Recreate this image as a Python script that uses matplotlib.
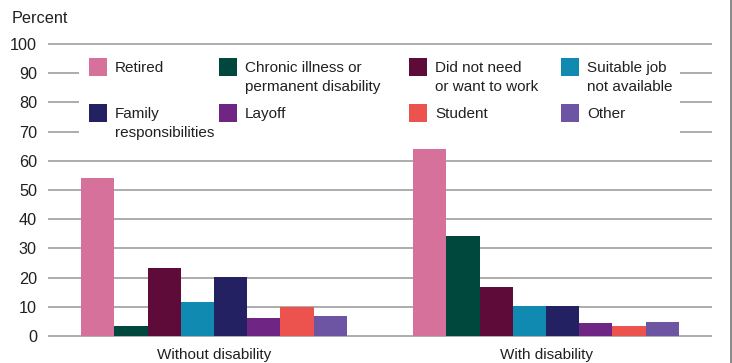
import matplotlib
matplotlib.use("Agg")
import numpy as np
import matplotlib.pyplot as plt
from matplotlib.patches import Rectangle

plt.rcParams['font.family'] = ['Liberation Sans', 'DejaVu Sans']

# Data
groups = ["Without disability", "With disability"]
reasons = ["Retired", "Chronic illness or\npermanent disability", "Did not need\nor want to work",
           "Suitable job\nnot available", "Family\nresponsibilities", "Layoff", "Student", "Other"]
colors = ["#d5719a", "#00473d", "#5e0b3a", "#118ab2", "#232162", "#6f2583", "#ec534f", "#6d55a3"]
without_disability = [54, 3.4, 23.3, 11.6, 20.2, 6.3, 9.9, 6.8]
with_disability = [64.0, 34.3, 16.8, 10.3, 10.3, 4.5, 3.4, 4.8]
yticks = [0, 10, 20, 30, 40, 50, 60, 70, 80, 90, 100]

txt = "#231f20"
W, H = 732, 363

fig = plt.figure(figsize=(7.32, 3.63), dpi=100)
ax = fig.add_axes([48 / W, 1 - 338.9 / H, 664 / W, 300.7 / H])

values = np.array([without_disability, with_disability])
x = np.arange(len(groups))
bw = 0.1
for i, reason in enumerate(reasons):
    ax.bar(x + (i - 3.5) * bw, values[:, i], width=bw, color=colors[i], zorder=3)

ax.set_xlim(-0.5, 1.5)
ax.set_ylim(-1, 102)
ax.set_yticks(yticks)
ax.set_yticklabels([str(t) for t in yticks], fontsize=11.7, color=txt)
ax.set_xticks(x)
ax.set_xticklabels(groups, fontsize=11, color=txt)
ax.tick_params(axis='y', length=0, pad=8)
ax.tick_params(axis='x', length=0, pad=6.5)
ax.yaxis.grid(True, color="#a6a6a6", linewidth=1.3)
ax.set_axisbelow(True)
for s in ax.spines.values():
    s.set_visible(False)

# white box behind the legend interrupts the gridlines
fig.patches.append(Rectangle((79 / W, 1 - 145 / H), (680 - 79) / W, 95 / H,
                             transform=fig.transFigure, facecolor="white",
                             edgecolor="none", zorder=2))

# legend drawn as a 4 x 2 block
col_x = [89, 219, 409, 561]
row_y = [58, 104]
for i, reason in enumerate(reasons):
    cx = col_x[i % 4]
    ry = row_y[i // 4]
    fig.patches.append(Rectangle((cx / W, 1 - (ry + 18) / H), 18 / W, 18 / H,
                                 transform=fig.transFigure, facecolor=colors[i],
                                 edgecolor="none", zorder=3))
    fig.text((cx + 26) / W, 1 - (ry + 3) / H, reason, fontsize=11, color=txt,
             va='top', ha='left', linespacing=1.42, zorder=4)

fig.text(12 / W, 1 - 23 / H, "Percent", fontsize=11.7, color=txt, va='baseline', ha='left')

# thin frame line on the right edge
fig.add_artist(plt.Line2D([730.5 / W, 730.5 / W], [0, 1], transform=fig.transFigure,
                          color="#777777", linewidth=1.2))

fig.savefig("out.png", dpi=100)
